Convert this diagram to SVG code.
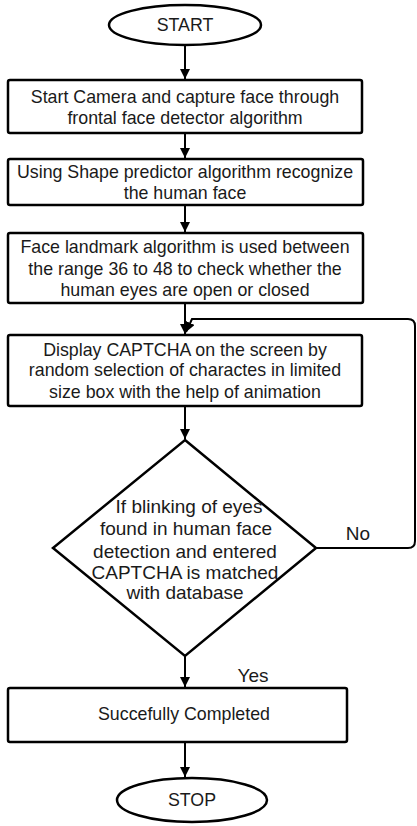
<svg xmlns="http://www.w3.org/2000/svg" width="417" height="826" viewBox="0 0 417 826">
<style>
.s{fill:#fff;stroke:#000;stroke-width:2.5}
.t{font-family:"Liberation Sans",Arial,sans-serif;font-size:17.8px;fill:#1a1a1a;text-anchor:middle}
.d{font-size:19px}
.c{fill:none;stroke:#000;stroke-width:2}
</style>
<defs>
<marker id="a" viewBox="0 0 10 10" refX="10" refY="5" markerWidth="5" markerHeight="5" orient="auto" markerUnits="strokeWidth">
<path d="M0,0 L10,5 L0,10 z" fill="#000"/>
</marker>
</defs>
<rect width="417" height="826" fill="#fff"/>
<g id="connectors">
<line class="c" x1="185" y1="45" x2="185" y2="79" marker-end="url(#a)"/>
<line class="c" x1="185" y1="134" x2="185" y2="158" marker-end="url(#a)"/>
<line class="c" x1="185" y1="206" x2="185" y2="232" marker-end="url(#a)"/>
<line class="c" x1="185" y1="304" x2="185" y2="334" marker-end="url(#a)"/>
<line class="c" x1="185" y1="407" x2="185" y2="439" marker-end="url(#a)"/>
<line class="c" x1="185" y1="656" x2="185" y2="687" marker-end="url(#a)"/>
<line class="c" x1="185" y1="743" x2="185" y2="777" marker-end="url(#a)"/>
<path class="c" d="M316,548 L408,548 Q415,548 415,541 L415,326 Q415,319 408,319 L192,319 L186,332" marker-end="url(#a)"/>
</g>
<g id="start"><ellipse class="s" cx="185" cy="25" rx="76" ry="20"/><text class="t" x="185" y="31">START</text></g>
<g id="box1"><rect class="s" x="8" y="80" width="354" height="53" rx="2"/>
<text class="t" x="185" y="103">Start Camera and capture face through</text>
<text class="t" x="185" y="124">frontal face detector algorithm</text></g>
<g id="box2"><rect class="s" x="8" y="159" width="355" height="46" rx="2"/>
<text class="t" x="185" y="178">Using Shape predictor algorithm recognize</text>
<text class="t" x="185" y="199">the human face</text></g>
<g id="box3"><rect class="s" x="8" y="233" width="355" height="70" rx="2"/>
<text class="t" x="185" y="253">Face landmark algorithm is used between</text>
<text class="t" x="185" y="275">the range 36 to 48 to check whether the</text>
<text class="t" x="185" y="296">human eyes are open or closed</text></g>
<g id="box4"><rect class="s" x="8" y="335" width="354" height="71" rx="2"/>
<text class="t" x="185" y="356">Display CAPTCHA on the screen by</text>
<text class="t" x="185" y="376">random selection of charactes in limited</text>
<text class="t" x="185" y="398">size box with the help of animation</text></g>
<g id="decision"><polygon class="s" points="185,440 316,548 185,656 53,548"/>
<text class="t d" x="189" y="513">If blinking of eyes</text>
<text class="t d" x="186" y="535">found in human face</text>
<text class="t d" x="185" y="558">detection and entered</text>
<text class="t d" x="185" y="579">CAPTCHA is matched</text>
<text class="t d" x="185" y="599">with database</text></g>
<text class="t d" x="358" y="540">No</text>
<text class="t d" x="253" y="682">Yes</text>
<g id="box5"><rect class="s" x="8" y="688" width="339" height="54" rx="2"/>
<text class="t" x="184" y="720">Succefully Completed</text></g>
<g id="stop"><ellipse class="s" cx="192" cy="800" rx="75" ry="22"/><text class="t" x="192" y="806">STOP</text></g>
</svg>
